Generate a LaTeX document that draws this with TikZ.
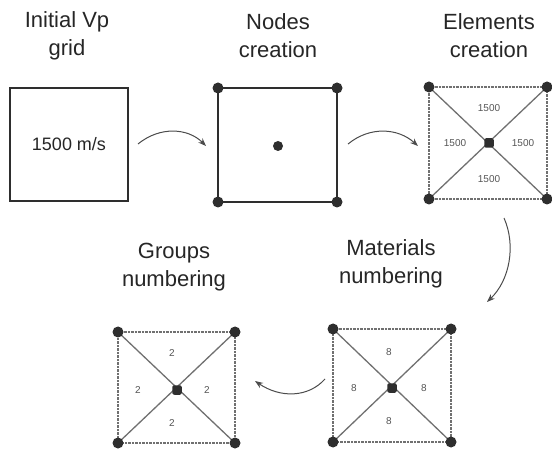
\documentclass[tikz,border=0pt]{standalone}
\usepackage{fontspec}
\setmainfont{Liberation Sans}
\usetikzlibrary{arrows.meta}
\definecolor{ink}{HTML}{2E2E2E}
\definecolor{edge}{HTML}{707070}
\definecolor{num}{HTML}{555555}
\begin{document}
\begin{tikzpicture}[x=1pt,y=-1pt,
  title/.style={font=\fontsize{22}{28}\selectfont, align=center, text=black!85},
  solidbox/.style={draw=ink, line width=1.8pt},
  dotbox/.style={draw=edge, line width=1.6pt, dash pattern=on 0.8pt off 0.6pt},
  diag/.style={draw=edge, line width=1.3pt},
  pt/.style={circle, fill=ink, inner sep=0pt, minimum size=11pt},
  cpt/.style={rectangle, rounded corners=2pt, fill=ink, inner sep=0pt, minimum size=9.5pt},
  smallnum/.style={font=\fontsize{10}{12}\selectfont, text=num},
  flow/.style={draw=black!70, line width=1pt, -{Stealth[length=8pt,width=6pt]}}]
\useasboundingbox (0,0) rectangle (552,449);

% titles
\node[title] (t1) at (67,36) {Initial Vp\\grid};
\node[title] (t2) at (278,36) {Nodes\\creation};
\node[title] (t3) at (489,36) {Elements\\creation};
\node[title] (t4) at (391,264) {Materials\\numbering};
\node[title] (t5) at (174,267) {Groups\\numbering};

% box 1
\coordinate (b1nw) at (10,88);
\coordinate (b1se) at (128,201);
\draw[solidbox] (b1nw) rectangle (b1se);
\node[font=\fontsize{18}{22}\selectfont, text=black!85] (v1) at (69,144) {1500 m/s};

% box 2
\coordinate (b2nw) at (218,88);
\coordinate (b2se) at (337,202);
\draw[solidbox] (b2nw) rectangle (b2se);
\node[pt] (n2a) at (218,88) {};
\node[pt] (n2b) at (337,88) {};
\node[pt] (n2c) at (218,202) {};
\node[pt] (n2d) at (337,202) {};
\node[pt, minimum size=10pt] (n2e) at (278,146) {};

\newcommand{\meshbox}[6]{%
  \coordinate (#1nw) at (#2,#3);
  \coordinate (#1ne) at (#4,#3);
  \coordinate (#1sw) at (#2,#5);
  \coordinate (#1se) at (#4,#5);
  \coordinate (#1c) at (#6);
  \draw[dotbox] (#1nw) -- (#1ne) -- (#1se) -- (#1sw) -- cycle;
  \draw[diag] (#1nw) -- (#1se);
  \draw[diag] (#1ne) -- (#1sw);
  \node[pt] (#1pa) at (#1nw) {};
  \node[pt] (#1pb) at (#1ne) {};
  \node[pt] (#1pc) at (#1sw) {};
  \node[pt] (#1pd) at (#1se) {};
  \node[cpt] (#1pe) at (#1c) {};
}
\meshbox{m3}{429}{87}{547}{199}{489,143}
\node[smallnum] (e3t) at (489,108) {1500};
\node[smallnum] (e3l) at (455,143) {1500};
\node[smallnum] (e3r) at (523,143) {1500};
\node[smallnum] (e3b) at (489,179) {1500};

\meshbox{m4}{333}{329}{451}{442}{392,388}
\node[smallnum] (e4t) at (389,352) {8};
\node[smallnum] (e4l) at (354,388) {8};
\node[smallnum] (e4r) at (424,388) {8};
\node[smallnum] (e4b) at (389,421) {8};

\meshbox{m5}{118}{332}{235}{443}{177,390}
\node[smallnum] (e5t) at (172,353) {2};
\node[smallnum] (e5l) at (138,390) {2};
\node[smallnum] (e5r) at (207,390) {2};
\node[smallnum] (e5b) at (172,423) {2};

% arrows
\coordinate (a1s) at (138,144);
\coordinate (a1e) at (206,146);
\draw[flow] (a1s) .. controls (160,126) and (188,128) .. (a1e);
\coordinate (a2s) at (348,144);
\coordinate (a2e) at (418,146);
\draw[flow] (a2s) .. controls (370,126) and (398,128) .. (a2e);
\coordinate (a3s) at (504,218);
\coordinate (a3e) at (487,302);
\draw[flow] (a3s) .. controls (516,245) and (510,280) .. (a3e);
\coordinate (a4s) at (325,379);
\coordinate (a4e) at (255,381);
\draw[flow] (a4s) .. controls (308,398) and (280,398) .. (a4e);
\end{tikzpicture}
\end{document}
